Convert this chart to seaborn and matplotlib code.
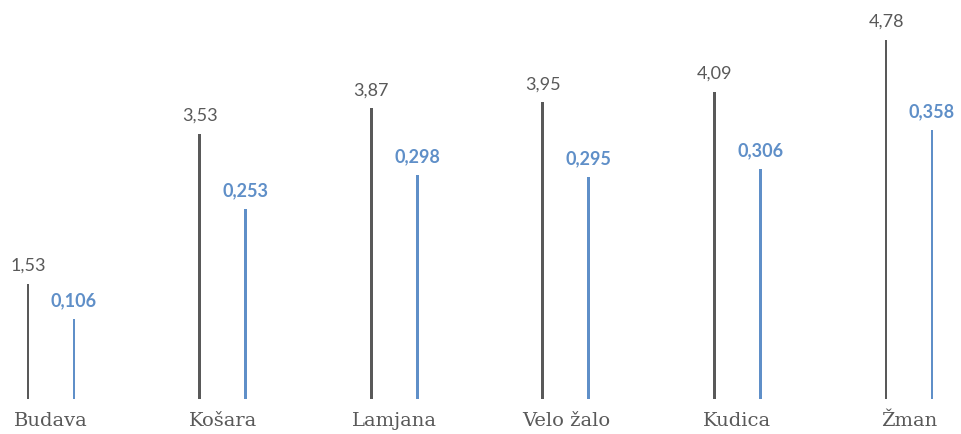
import matplotlib
matplotlib.use("Agg")
import matplotlib.pyplot as plt
import numpy as np
import seaborn as sns

# Data
locations = ["Budava", "Košara", "Lamjana", "Velo žalo", "Kudica", "Žman"]
dark_values = [1.53, 3.53, 3.87, 3.95, 4.09, 4.78]
blue_values = [0.106, 0.253, 0.298, 0.295, 0.306, 0.358]

DARK_COLOR = "#595959"
BLUE_COLOR = "#5F8FC8"
OFFSET = 0.134
BAR_WIDTH = 0.017

sns.set_style("white")

fig = plt.figure(figsize=(9.61, 4.35), dpi=100)
ax = fig.add_axes([0, 35 / 435, 1, 400 / 435])
ax2 = ax.twinx()

idx = np.arange(len(locations))
dark_x = idx - OFFSET
blue_x = idx + OFFSET

sns.barplot(x=dark_x, y=dark_values, native_scale=True, orient="x",
            width=BAR_WIDTH, color=DARK_COLOR, saturation=1, linewidth=0, ax=ax)
sns.barplot(x=blue_x, y=blue_values, native_scale=True, orient="x",
            width=BAR_WIDTH, color=BLUE_COLOR, saturation=1, linewidth=0, ax=ax2)

for x, v in zip(dark_x, dark_values):
    ax.annotate(f"{v:.2f}".replace(".", ","), (x, v), xytext=(0, 8),
                textcoords="offset points", ha="center", va="bottom",
                fontsize=13, color=DARK_COLOR, family="Lato")
for x, v in zip(blue_x, blue_values):
    ax2.annotate(f"{v:.3f}".replace(".", ","), (x, v), xytext=(0, 8),
                 textcoords="offset points", ha="center", va="bottom",
                 fontsize=13, fontweight="bold", color=BLUE_COLOR, family="Lato")

xmin = -51 / 171.6
xmax = (961 - 51) / 171.6
for a in (ax, ax2):
    a.set_xlim(xmin, xmax)
    for s in a.spines.values():
        s.set_visible(False)
    a.set_yticks([])
    a.set_ylabel("")
ax.set_ylim(0, 400 / 75.1)
ax2.set_ylim(0, 400 / 751)

ax.set_xticks(idx)
ax.set_xticklabels(locations, family="DejaVu Serif", fontsize=14, color=DARK_COLOR)
ax.tick_params(axis="x", length=0, pad=9)
ax2.tick_params(axis="x", length=0, labelbottom=False)
ax.set_xlabel("")

fig.savefig("out.png", dpi=100)
